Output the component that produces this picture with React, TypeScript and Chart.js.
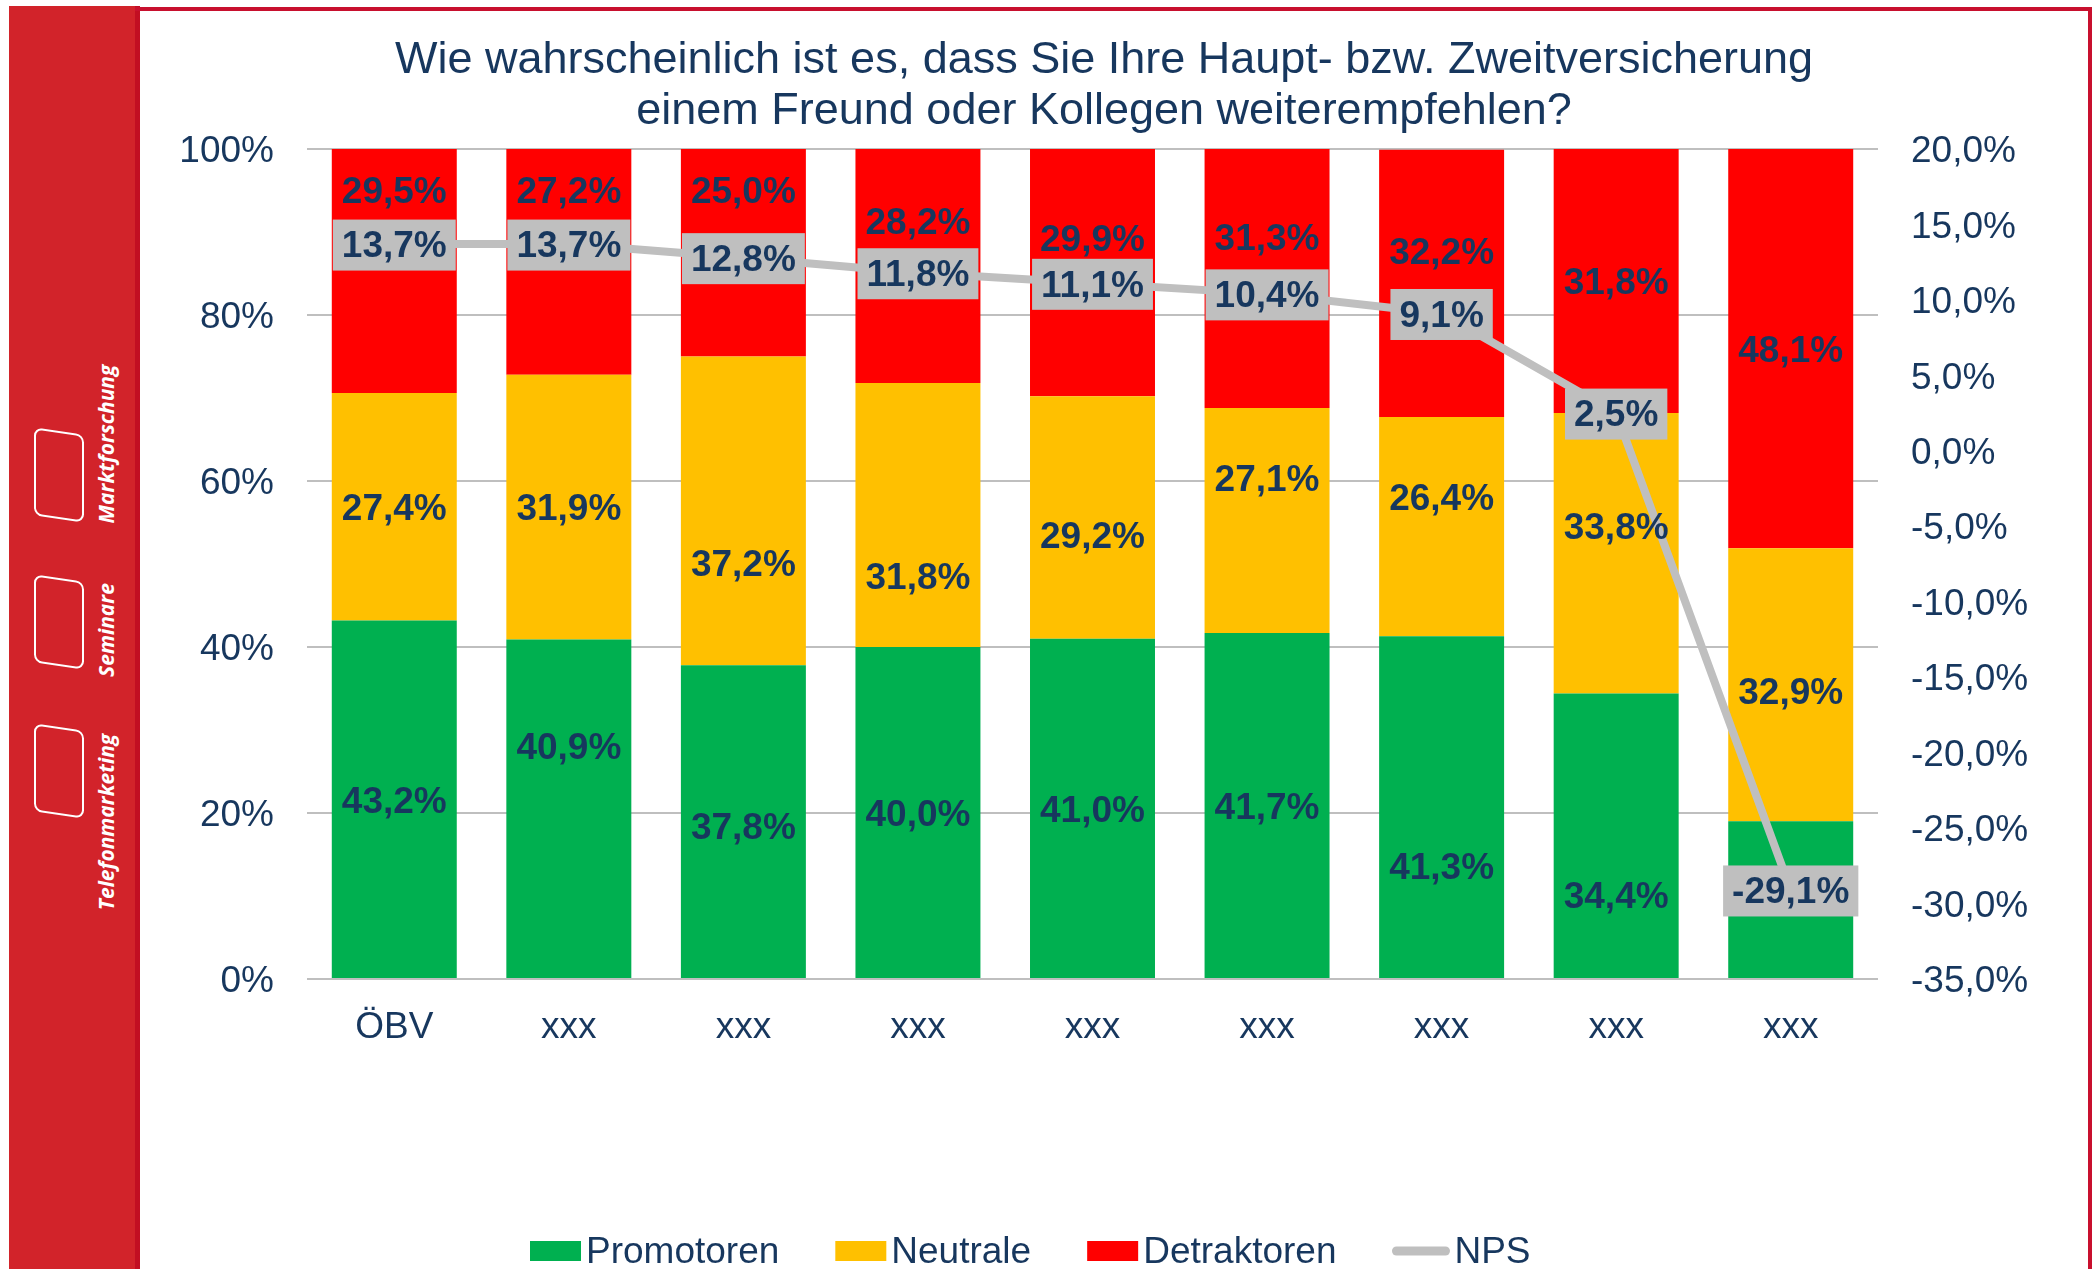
import React, { useEffect, useRef } from 'react';
import { Chart, registerables } from 'chart.js';

Chart.register(...registerables);

const categories = ['ÖBV', 'xxx', 'xxx', 'xxx', 'xxx', 'xxx', 'xxx', 'xxx', 'xxx'];
const promotoren = [43.2, 40.9, 37.8, 40.0, 41.0, 41.7, 41.3, 34.4, 19.0];
const neutrale = [27.4, 31.9, 37.2, 31.8, 29.2, 27.1, 26.4, 33.8, 32.9];
const detraktoren = [29.5, 27.2, 25.0, 28.2, 29.9, 31.3, 32.2, 31.8, 48.1];
const nps = [13.7, 13.7, 12.8, 11.8, 11.1, 10.4, 9.1, 2.5, -29.1];

const seriesNames = ['Promotoren', 'Neutrale', 'Detraktoren', 'NPS'];
const titleLines = [
  'Wie wahrscheinlich ist es, dass Sie Ihre Haupt- bzw. Zweitversicherung',
  'einem Freund oder Kollegen weiterempfehlen?',
];
const sidebarItems = ['Marktforschung', 'Seminare', 'Telefonmarketing'];

// Label shifts (percentage points) – labels were moved by hand in the original
const promotorenLabelShift = [0, 7.6, -0.5, 0, 0, 0, -7.0, -7.0, 0.9];
const neutraleLabelShift = [0, 0, -6.2, -7.3, -2.1, 5.1, 3.6, 3.3, -0.7];
const detraktorenLabelShift = [9.7, 8.7, 7.6, 5.4, 4.1, 5.0, 3.9, 0, 0];

const NAVY = '#17375E';
const GREEN = '#00B050';
const YELLOW = '#FFC000';
const RED = '#FF0000';
const GRAY = '#BFBFBF';
const FONT = '"Liberation Sans", Arial, sans-serif';
const TEXT_DY = 3;

const fmt = (v: number, d: number) => v.toFixed(d).replace('.', ',') + '%';

const labelsPlugin = {
  id: 'segLabels',
  afterDatasetsDraw(chart: any) {
    const ctx = chart.ctx;
    const y = chart.scales.y;
    const series = [promotoren, neutrale, detraktoren];
    const shifts = [promotorenLabelShift, neutraleLabelShift, detraktorenLabelShift];
    ctx.save();
    ctx.font = `bold 37px ${FONT}`;
    ctx.fillStyle = NAVY;
    ctx.textAlign = 'center';
    ctx.textBaseline = 'middle';
    for (let i = 0; i < categories.length; i++) {
      let cum = 0;
      for (let s = 0; s < 3; s++) {
        const v = series[s][i];
        const meta = chart.getDatasetMeta(s);
        const bar = meta.data[i];
        const py = y.getPixelForValue(cum + v / 2 + shifts[s][i]);
        ctx.fillText(fmt(v, 1), bar.x, py + TEXT_DY);
        cum += v;
      }
    }
    // NPS boxes
    const lineMeta = chart.getDatasetMeta(3);
    for (let i = 0; i < nps.length; i++) {
      const pt = lineMeta.data[i];
      const txt = fmt(nps[i], 1);
      const w = ctx.measureText(txt).width + 18;
      const h = 51;
      ctx.fillStyle = GRAY;
      ctx.fillRect(pt.x - w / 2, pt.y - h / 2 + 1, w, h);
      ctx.fillStyle = NAVY;
      ctx.fillText(txt, pt.x, pt.y + TEXT_DY);
    }
    ctx.restore();
  },
  afterDraw(chart: any) {
    const ctx = chart.ctx;
    ctx.save();
    ctx.font = `37px ${FONT}`;
    ctx.fillStyle = NAVY;
    ctx.textBaseline = 'middle';
    ctx.textAlign = 'left';
    const colors = [GREEN, YELLOW, RED, GRAY];
    let x = 530;
    const cy = 1251;
    for (let k = 0; k < seriesNames.length; k++) {
      if (k < 3) {
        ctx.fillStyle = colors[k];
        ctx.fillRect(x, cy - 10, 51, 20);
        x += 51 + 5;
      } else {
        ctx.strokeStyle = GRAY;
        ctx.lineWidth = 9;
        ctx.lineCap = 'round';
        ctx.beginPath();
        ctx.moveTo(x + 4, cy);
        ctx.lineTo(x + 53, cy);
        ctx.stroke();
        x += 57 + 5;
      }
      ctx.fillStyle = NAVY;
      ctx.fillText(seriesNames[k], x, cy + 2);
      x += ctx.measureText(seriesNames[k]).width + 56;
    }
    ctx.restore();
  },
};

export default function App() {
  const canvasRef = useRef<HTMLCanvasElement | null>(null);

  useEffect(() => {
    if (!canvasRef.current) return;
    const chart = new Chart(canvasRef.current, {
      type: 'bar',
      data: {
        labels: categories,
        datasets: [
          { label: seriesNames[0], data: promotoren, backgroundColor: GREEN, borderWidth: 0, order: 1, stack: 's' },
          { label: seriesNames[1], data: neutrale, backgroundColor: YELLOW, borderWidth: 0, order: 1, stack: 's' },
          { label: seriesNames[2], data: detraktoren, backgroundColor: RED, borderWidth: 0, order: 1, stack: 's' },
          {
            type: 'line',
            label: seriesNames[3],
            data: nps,
            yAxisID: 'y2',
            borderColor: GRAY,
            backgroundColor: GRAY,
            borderWidth: 8,
            pointRadius: 0,
            tension: 0,
            order: 0,
          } as any,
        ],
      },
      options: {
        responsive: false,
        animation: false,
        events: [],
        datasets: { bar: { categoryPercentage: 1, barPercentage: 0.716 } },
        layout: { padding: { left: 140, right: 31, top: 0, bottom: 0 } },
        plugins: {
          legend: { display: false },
          tooltip: { enabled: false },
          title: {
            display: true,
            text: titleLines,
            color: NAVY,
            font: { family: FONT, size: 45, weight: 'normal', lineHeight: 1.13 },
            padding: { top: 35, bottom: 12.3 },
          },
        },
        scales: {
          x: {
            stacked: true,
            grid: { display: false, drawTicks: false },
            border: { display: false },
            ticks: { color: NAVY, font: { family: FONT, size: 37 }, padding: 27, maxRotation: 0 },
            afterFit(scale: any) {
              scale.height = 290;
            },
          },
          y: {
            stacked: true,
            position: 'left',
            min: 0,
            max: 100,
            grid: { color: GRAY, lineWidth: 2, drawTicks: false },
            border: { display: false },
            ticks: {
              stepSize: 20,
              padding: 33,
              labelOffset: TEXT_DY,
              color: NAVY,
              font: { family: FONT, size: 37 },
              callback: (v: any) => v + '%',
            },
            afterFit(scale: any) {
              scale.width = 167;
            },
          },
          y2: {
            position: 'right',
            min: -35,
            max: 20,
            grid: { display: false, drawTicks: false },
            border: { display: false },
            ticks: {
              stepSize: 5,
              padding: 33,
              labelOffset: TEXT_DY,
              color: NAVY,
              font: { family: FONT, size: 37 },
              callback: (v: any) => fmt(Number(v), 1),
            },
            afterFit(scale: any) {
              scale.width = 190;
            },
          },
        },
      } as any,
      plugins: [labelsPlugin],
    });
    return () => chart.destroy();
  }, []);

  const itemPos = [
    { textY: 444, rectY: 431 },
    { textY: 630, rectY: 578 },
    { textY: 822, rectY: 727 },
  ];

  return (
    <div style={{ position: 'fixed', left: 0, top: 0, width: 2099, height: 1269, background: '#fff', overflow: 'hidden' }}>
      <div style={{ position: 'absolute', left: 9, top: 6, width: 126, height: 1263, background: '#D2232A' }} />
      <div style={{ position: 'absolute', left: 135, top: 6, width: 5, height: 1263, background: '#C20E22' }} />
      <div style={{ position: 'absolute', left: 135, top: 7, width: 1957, height: 4, background: '#C8102E' }} />
      <div style={{ position: 'absolute', left: 2088, top: 7, width: 4, height: 1262, background: '#C8102E' }} />
      {sidebarItems.map((t, k) => (
        <React.Fragment key={t}>
          <div
            style={{
              position: 'absolute',
              left: 34,
              top: itemPos[k].rectY,
              width: 46,
              height: 84,
              border: '2px solid #fff',
              borderRadius: 8,
              transform: 'skewY(8deg)',
            }}
          />
          <div
            style={{
              position: 'absolute',
              left: 106,
              top: itemPos[k].textY,
              transform: 'translate(-50%, -50%) rotate(-90deg)',
              whiteSpace: 'nowrap',
              color: '#fff',
              fontFamily: '"Open Sans", sans-serif',
              fontStyle: 'italic',
              fontWeight: 700,
              fontSize: 21,
              lineHeight: '24px',
            }}
          >
            {t}
          </div>
        </React.Fragment>
      ))}
      <canvas ref={canvasRef} width={2099} height={1269} style={{ position: 'absolute', left: 0, top: 0, width: 2099, height: 1269 }} />
    </div>
  );
}
